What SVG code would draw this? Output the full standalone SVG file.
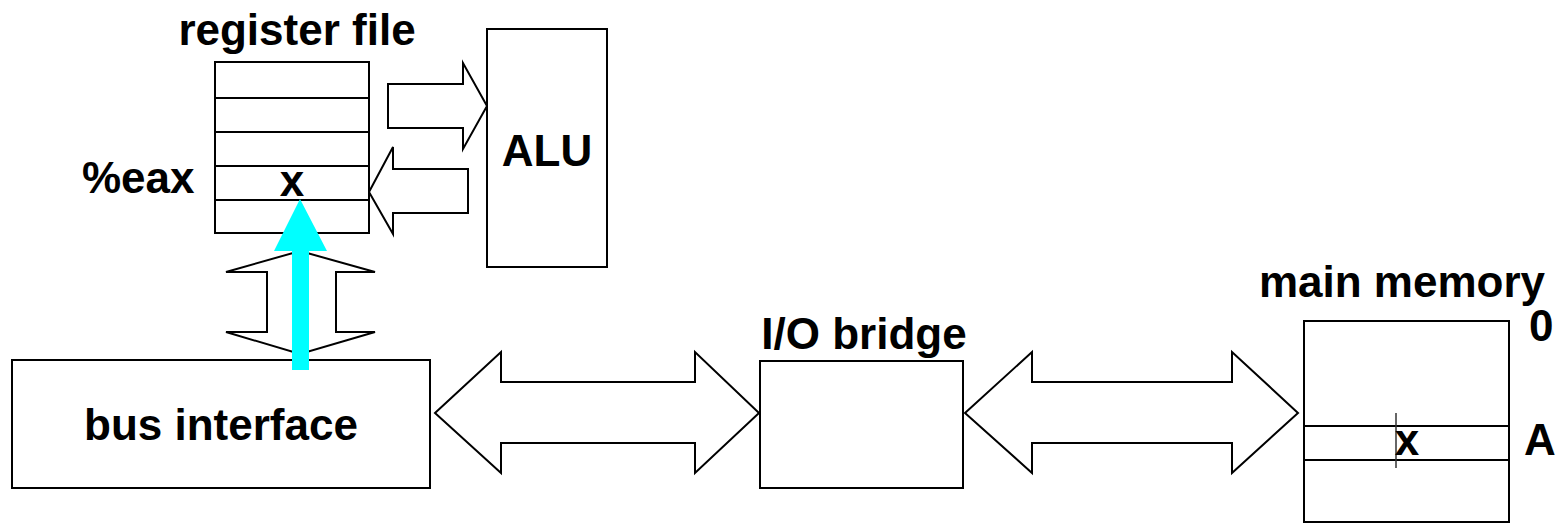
<svg xmlns="http://www.w3.org/2000/svg" width="1565" height="524" viewBox="0 0 1565 524">
<style>
.box{fill:#fff;stroke:#000;stroke-width:2}
.ln{stroke:#000;stroke-width:2;fill:none}
.arr{fill:#fff;stroke:#000;stroke-width:2;stroke-linejoin:miter}
.t{font-family:"Liberation Sans",Arial,sans-serif;font-weight:bold;font-size:44px;fill:#000}
.m{text-anchor:middle}
</style>
<rect width="1565" height="524" fill="#fff"/>
<g id="register-file">
<text class="t m" x="297" y="45">register file</text>
<rect class="box" x="215" y="62" width="154" height="171"/>
<path class="ln" d="M215,98 H369 M215,132 H369 M215,166 H369 M215,200 H369"/>
<text class="t" x="82" y="193">%eax</text>
<text class="t m" x="292" y="196" font-size="34">x</text>
</g>
<g id="alu">
<rect class="box" x="487" y="29" width="120" height="238"/>
<text class="t m" x="547" y="166">ALU</text>
</g>
<g id="bus-interface">
<rect class="box" x="12" y="360" width="418" height="128"/>
<text class="t m" x="221" y="440">bus interface</text>
</g>
<g id="io-bridge">
<text class="t m" x="864" y="349">I/O bridge</text>
<rect class="box" x="760" y="361" width="203" height="127"/>
</g>
<g id="main-memory">
<text class="t m" x="1402" y="297">main memory</text>
<rect class="box" x="1304" y="321" width="205" height="201"/>
<path class="ln" d="M1304,426 H1509 M1304,460 H1509"/>
<path d="M1396,413 V468" stroke="#333" stroke-width="1.5"/>
<text class="t m" x="1407" y="455" font-size="36">x</text>
<text class="t" x="1529" y="341">0</text>
<text class="t" x="1524" y="455">A</text>
</g>
<g id="connectors">
<path class="arr" d="M388,84 H463 V63 L487,106 L463,149 V128 H388 Z"/>
<path class="arr" d="M468,169 H393 V147 L369,192 L393,234 V213 H468 Z"/>
<path class="arr" d="M300,251 L375,272 H336 V332 H375 L300,354 L226,332 H267 V272 H226 Z"/>
<path class="arr" d="M435,413 L501,352 V382 H695 V352 L759,413 L695,473 V443 H501 V473 Z"/>
<path class="arr" d="M965,413 L1032,352 V382 H1232 V352 L1298,413 L1232,473 V443 H1032 V473 Z"/>
<path d="M292,370 V251 H274 L300,199 L327,251 H309 V370 Z" fill="#00ffff"/>
</g>
</svg>
